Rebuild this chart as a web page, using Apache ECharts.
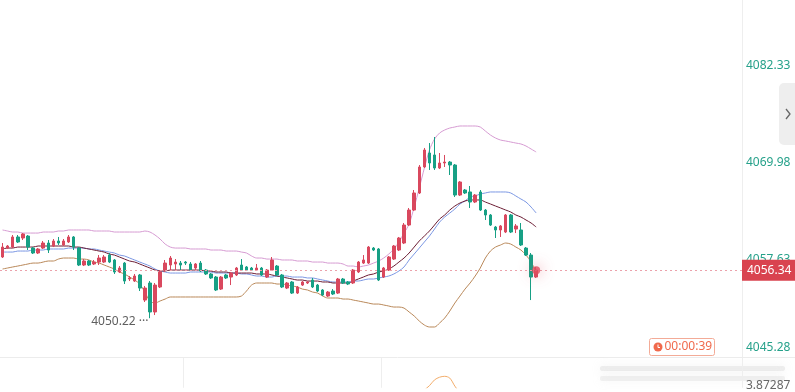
<!DOCTYPE html>
<html>
<head>
<meta charset="utf-8">
<script src="https://cdn.jsdelivr.net/npm/echarts@6/dist/echarts.min.js"></script>
<style>
  html, body { margin: 0; padding: 0; background: #fff; }
  #chart { width: 795px; height: 392px; }
</style>
</head>
<body>
<div id="chart"></div>
<script>
// price axis
const priceMin = 4045.28
const priceMax = 4090.73
const priceTicks = [4045.28, 4057.63, 4069.98, 4082.33]
const lastPrice = 4056.34
const lowPrice = 4050.22
const lowIndex = 29
const slotCount = 146

// candles (open / close / low / high)
const opens = [
  4058.01, 4059.15, 4059.28, 4060.56, 4060.43, 4060.68, 4059.15, 4058.52, 4059.15, 4059.79,
  4059.41, 4060.05, 4059.54, 4059.92, 4060.56, 4059.15, 4056.99, 4057.50, 4057.12, 4057.37,
  4057.37, 4058.26, 4057.63, 4056.10, 4057.24, 4055.21, 4054.95, 4055.72, 4052.53, 4054.70,
  4051.01, 4054.19, 4056.35, 4056.99, 4057.12, 4057.24, 4057.37, 4057.12, 4056.61, 4057.24,
  4056.35, 4055.85, 4055.46, 4053.93, 4055.72, 4055.46, 4055.72, 4056.99, 4056.74, 4056.61,
  4056.35, 4056.61, 4055.46, 4056.35, 4056.86, 4055.72, 4054.06, 4054.83, 4053.42, 4054.44,
  4054.70, 4055.08, 4054.44, 4053.81, 4053.04, 4053.68, 4053.42, 4055.21, 4054.83, 4054.70,
  4056.10, 4057.24, 4057.24, 4059.15, 4059.03, 4055.46, 4056.35, 4057.75, 4058.90, 4059.79,
  4062.08, 4063.99, 4066.16, 4069.47, 4071.25, 4071.00, 4069.34, 4069.98, 4070.10, 4069.72,
  4065.90, 4066.54, 4066.29, 4065.01, 4066.29, 4063.99, 4063.36, 4061.83, 4061.45, 4061.19,
  4063.36, 4061.57, 4061.45, 4059.15, 4058.26, 4055.46
]
const closes = [
  4059.28, 4059.41, 4060.56, 4059.92, 4060.94, 4059.28, 4058.52, 4059.03, 4059.79, 4058.90,
  4060.05, 4059.79, 4060.05, 4060.56, 4059.28, 4056.99, 4057.50, 4056.99, 4057.37, 4057.88,
  4058.01, 4057.37, 4056.10, 4056.61, 4054.95, 4055.34, 4055.59, 4054.06, 4054.06, 4051.01,
  4054.44, 4056.10, 4057.24, 4057.88, 4057.37, 4056.99, 4057.24, 4056.35, 4057.12, 4056.23,
  4055.85, 4055.34, 4053.81, 4055.46, 4055.34, 4055.97, 4056.61, 4056.35, 4056.35, 4056.35,
  4056.61, 4055.72, 4056.35, 4057.63, 4055.72, 4054.19, 4054.70, 4053.42, 4054.19, 4054.83,
  4054.83, 4054.19, 4053.68, 4053.17, 4053.55, 4053.30, 4055.21, 4054.70, 4054.57, 4056.35,
  4057.37, 4057.63, 4059.28, 4058.90, 4055.08, 4056.61, 4058.01, 4059.41, 4060.43, 4062.08,
  4063.99, 4066.16, 4069.47, 4071.63, 4069.98, 4069.34, 4069.98, 4070.10, 4069.72, 4065.90,
  4067.56, 4066.16, 4065.01, 4065.90, 4063.99, 4063.36, 4062.08, 4061.45, 4061.96, 4063.36,
  4061.19, 4061.96, 4059.54, 4058.26, 4055.46, 4056.34
]
const lows = [
  4057.88, 4059.03, 4059.15, 4059.79, 4060.17, 4058.90, 4058.39, 4058.39, 4059.03, 4058.52,
  4059.28, 4059.54, 4059.41, 4059.79, 4058.90, 4056.86, 4056.86, 4056.86, 4056.99, 4056.99,
  4057.24, 4057.24, 4055.85, 4055.97, 4054.57, 4054.95, 4054.83, 4053.68, 4052.28, 4050.22,
  4050.62, 4054.06, 4056.10, 4056.35, 4056.35, 4056.35, 4056.99, 4056.23, 4056.35, 4056.10,
  4055.72, 4055.21, 4053.68, 4053.81, 4055.21, 4054.44, 4055.59, 4056.23, 4056.23, 4056.23,
  4056.23, 4055.59, 4055.34, 4056.23, 4055.59, 4054.06, 4053.93, 4053.30, 4053.30, 4054.32,
  4054.57, 4054.06, 4053.55, 4053.04, 4052.92, 4053.17, 4053.30, 4054.57, 4054.44, 4054.57,
  4055.97, 4057.12, 4057.12, 4058.77, 4054.95, 4055.34, 4056.23, 4057.63, 4058.77, 4059.66,
  4061.96, 4063.87, 4066.03, 4069.34, 4069.09, 4069.09, 4069.21, 4069.47, 4068.45, 4065.65,
  4065.78, 4066.03, 4064.25, 4064.88, 4063.87, 4062.72, 4061.96, 4060.43, 4060.56, 4061.06,
  4061.06, 4061.06, 4059.41, 4058.14, 4052.53, 4055.34
]
const highs = [
  4059.79, 4059.54, 4060.81, 4060.81, 4061.06, 4060.81, 4059.28, 4059.15, 4060.05, 4060.17,
  4060.30, 4060.56, 4060.30, 4060.81, 4060.68, 4059.28, 4057.75, 4057.63, 4057.63, 4058.26,
  4058.26, 4058.52, 4057.75, 4056.86, 4057.37, 4055.59, 4055.85, 4055.85, 4054.32, 4054.95,
  4054.70, 4056.35, 4057.63, 4058.14, 4057.75, 4057.50, 4057.50, 4057.37, 4057.24, 4057.50,
  4056.48, 4055.97, 4055.59, 4055.59, 4055.85, 4056.10, 4056.74, 4057.75, 4056.86, 4056.74,
  4057.12, 4056.74, 4056.48, 4058.01, 4056.99, 4055.85, 4054.83, 4054.95, 4054.32, 4054.95,
  4054.95, 4055.34, 4054.57, 4053.93, 4053.68, 4053.93, 4055.34, 4055.34, 4054.95, 4056.48,
  4057.50, 4058.26, 4059.41, 4059.28, 4059.15, 4056.74, 4058.14, 4059.54, 4060.56, 4062.34,
  4064.25, 4066.54, 4069.72, 4071.89, 4072.52, 4073.29, 4071.25, 4071.00, 4070.23, 4069.85,
  4067.68, 4066.67, 4067.05, 4066.03, 4066.54, 4064.12, 4063.48, 4061.96, 4062.08, 4063.48,
  4063.48, 4062.21, 4062.34, 4059.28, 4058.52, 4056.74
]

// bollinger bands + moving average
const bollUpper = [
  4061.45, 4061.32, 4061.19, 4061.19, 4061.06, 4061.06, 4061.06, 4061.06, 4061.19, 4061.19,
  4061.19, 4061.32, 4061.32, 4061.45, 4061.45, 4061.45, 4061.45, 4061.45, 4061.32, 4061.32,
  4061.32, 4061.32, 4061.19, 4061.19, 4061.19, 4061.19, 4061.19, 4061.19, 4061.32, 4061.19,
  4060.81, 4060.30, 4059.66, 4059.28, 4059.15, 4059.15, 4059.15, 4059.03, 4059.03, 4059.03,
  4059.03, 4058.90, 4058.90, 4058.90, 4058.77, 4058.77, 4058.77, 4058.64, 4058.52, 4058.14,
  4057.88, 4057.88, 4057.75, 4057.75, 4057.75, 4057.63, 4057.63, 4057.63, 4057.50, 4057.50,
  4057.50, 4057.37, 4057.37, 4057.37, 4057.24, 4057.24, 4057.24, 4057.12, 4056.86, 4056.86,
  4056.74, 4056.86, 4056.99, 4057.24, 4057.50, 4057.88, 4058.39, 4059.03, 4059.92, 4061.06,
  4062.21, 4064.37, 4066.79, 4069.34, 4071.63, 4073.03, 4073.80, 4074.18, 4074.43, 4074.56,
  4074.69, 4074.69, 4074.69, 4074.69, 4074.56, 4074.05, 4073.54, 4073.16, 4072.90, 4072.78,
  4072.65, 4072.52, 4072.40, 4072.14, 4071.76, 4071.38
]
const bollMid = [
  4059.03, 4059.15, 4059.15, 4059.28, 4059.28, 4059.28, 4059.28, 4059.41, 4059.41, 4059.41,
  4059.41, 4059.41, 4059.41, 4059.41, 4059.28, 4059.28, 4059.15, 4059.03, 4058.90, 4058.77,
  4058.64, 4058.39, 4058.26, 4058.01, 4057.75, 4057.50, 4057.37, 4057.12, 4056.86, 4056.61,
  4056.35, 4056.23, 4056.23, 4056.35, 4056.35, 4056.35, 4056.35, 4056.35, 4056.35, 4056.35,
  4056.23, 4056.23, 4056.10, 4056.10, 4056.10, 4055.97, 4055.97, 4055.97, 4055.97, 4055.97,
  4055.85, 4055.85, 4055.85, 4055.72, 4055.59, 4055.46, 4055.34, 4055.21, 4055.08, 4055.08,
  4054.95, 4054.95, 4054.95, 4054.83, 4054.83, 4054.70, 4054.70, 4054.70, 4054.70, 4054.95,
  4055.21, 4055.46, 4055.72, 4055.85, 4056.10, 4056.23, 4056.48, 4056.86, 4057.37, 4057.88,
  4058.52, 4059.28, 4060.05, 4060.68, 4061.32, 4062.08, 4062.85, 4063.36, 4063.99, 4064.50,
  4064.88, 4065.14, 4065.27, 4065.27, 4065.27, 4065.01, 4064.76, 4064.50, 4064.25, 4063.99,
  4063.74, 4063.36, 4063.10, 4062.72, 4062.34, 4061.83
]
const bollLower = [
  4056.48, 4056.61, 4056.74, 4056.86, 4056.99, 4057.12, 4057.24, 4057.24, 4057.37, 4057.50,
  4057.50, 4057.75, 4057.88, 4057.88, 4057.88, 4057.75, 4057.75, 4057.63, 4057.37, 4057.24,
  4056.99, 4056.74, 4056.48, 4056.10, 4055.85, 4055.46, 4055.08, 4054.57, 4053.55, 4052.41,
  4052.15, 4052.41, 4052.66, 4052.92, 4052.92, 4052.92, 4052.92, 4052.92, 4052.92, 4052.92,
  4052.92, 4052.92, 4052.92, 4052.92, 4052.92, 4052.92, 4052.92, 4053.04, 4053.68, 4054.44,
  4054.70, 4054.70, 4054.70, 4054.70, 4054.57, 4054.57, 4054.44, 4054.32, 4054.19, 4053.93,
  4053.81, 4053.55, 4053.42, 4053.04, 4052.79, 4052.79, 4052.79, 4052.66, 4052.66, 4052.53,
  4052.41, 4052.28, 4052.15, 4052.02, 4052.02, 4051.90, 4051.77, 4051.64, 4051.64, 4051.51,
  4051.01, 4050.50, 4049.86, 4049.35, 4049.10, 4049.10, 4049.61, 4050.24, 4051.13, 4052.15,
  4053.04, 4053.93, 4054.70, 4055.59, 4056.61, 4057.88, 4058.77, 4059.28, 4059.54, 4059.79,
  4059.66, 4059.28, 4058.90, 4058.26, 4057.37, 4056.10
]
const maLine = [
  4058.64, 4058.64, 4058.64, 4058.77, 4058.77, 4058.77, 4058.90, 4058.90, 4058.90, 4059.03,
  4059.03, 4059.03, 4059.03, 4059.15, 4059.15, 4059.15, 4059.15, 4059.03, 4059.03, 4058.90,
  4058.77, 4058.64, 4058.52, 4058.26, 4058.14, 4057.88, 4057.63, 4057.37, 4057.12, 4056.86,
  4056.48, 4056.23, 4056.10, 4055.97, 4055.97, 4055.97, 4055.97, 4056.10, 4056.10, 4056.10,
  4056.10, 4056.10, 4055.97, 4055.97, 4055.97, 4055.97, 4055.97, 4055.85, 4055.85, 4055.72,
  4055.59, 4055.59, 4055.46, 4055.46, 4055.59, 4055.59, 4055.59, 4055.46, 4055.46, 4055.46,
  4055.34, 4055.34, 4055.21, 4055.08, 4054.95, 4054.83, 4054.83, 4054.83, 4054.83, 4054.95,
  4054.95, 4055.08, 4055.21, 4055.21, 4055.34, 4055.46, 4055.59, 4055.85, 4056.23, 4056.74,
  4057.63, 4058.39, 4059.15, 4059.92, 4060.68, 4061.57, 4062.46, 4063.10, 4063.61, 4064.12,
  4064.76, 4065.14, 4065.65, 4065.78, 4066.03, 4066.16, 4066.29, 4066.29, 4066.29, 4066.29,
  4066.16, 4065.78, 4065.39, 4065.01, 4064.37, 4063.61
]

// lower panel oscillator (only the visible bump)
const oscStart = 81
const oscValues = [3.50, 3.62, 3.78, 3.88, 4.01, 4.07, 4.09, 4.05, 3.87, 3.72]
const oscTicks = [3.87287]

const chart = echarts.init(document.getElementById('chart'), null, { renderer: 'canvas' })

const categories = Array.from({ length: slotCount }, (_, i) => String(i))
const candles = opens.map((o, i) => [o, closes[i], lows[i], highs[i]])
const oscData = categories.map((_, i) => {
  const k = i - oscStart
  return k >= 0 && k < oscValues.length ? oscValues[k] : null
})

const upColor = '#d9485e'
const downColor = '#17a085'

const lineSeries = (name, data, color) => ({
  name,
  type: 'line',
  data,
  smooth: 0.3,
  showSymbol: false,
  silent: true,
  lineStyle: { width: 1, color },
  z: 3
})

const option = {
  animation: false,
  textStyle: { fontFamily: 'Noto Sans' },
  grid: [
    { left: 0, right: 53, top: 0, height: 357 },
    { left: 0, right: 53, top: 358, bottom: 0 }
  ],
  xAxis: [
    { type: 'category', data: categories, gridIndex: 0, boundaryGap: true, show: false },
    {
      type: 'category',
      data: categories,
      gridIndex: 1,
      boundaryGap: true,
      axisLine: { show: false },
      axisTick: { show: false },
      axisLabel: { show: false },
      splitLine: {
        show: true,
        interval: (i) => i === 36 || i === 75,
        lineStyle: { color: '#eeeeee' }
      }
    }
  ],
  yAxis: [
    {
      type: 'value',
      gridIndex: 0,
      position: 'right',
      min: priceMin,
      max: priceMax,
      axisLine: { show: true, lineStyle: { color: '#eeeeee' } },
      axisTick: { show: false },
      splitLine: { show: false },
      axisLabel: {
        customValues: priceTicks,
        margin: 4,
        color: '#26a18a',
        fontSize: 12,
        formatter: (v) => v === priceMin ? '{lift|' + v.toFixed(2) + '}' : v.toFixed(2),
        rich: { lift: { color: '#26a18a', fontSize: 12, padding: [0, 0, 18, 0] } }
      }
    },
    {
      type: 'value',
      gridIndex: 1,
      position: 'right',
      min: 3.833,
      max: 4.5,
      axisLine: { show: false },
      axisTick: { show: false },
      splitLine: { show: false },
      axisLabel: {
        customValues: oscTicks,
        margin: 4,
        color: '#666',
        fontSize: 12,
        formatter: (v) => v.toFixed(5)
      }
    }
  ],
  series: [
    lineSeries('upper', bollUpper, '#d69bd2'),
    lineSeries('lower', bollLower, '#b98859'),
    lineSeries('ma', maLine, '#7b97e3'),
    lineSeries('mid', bollMid, '#6b1c33'),
    {
      name: 'kline',
      type: 'candlestick',
      data: candles,
      barWidth: 3,
      z: 4,
      itemStyle: {
        color: upColor,
        color0: downColor,
        borderColor: upColor,
        borderColor0: downColor,
        borderWidth: 1
      },
      markLine: {
        silent: true,
        symbol: 'none',
        lineStyle: { color: '#eba2ab', width: 1, type: [2, 3] },
        label: {
          position: 'end',
          distance: 0,
          formatter: lastPrice.toFixed(2),
          color: '#fff',
          fontSize: 12,
          backgroundColor: '#d9434f',
          padding: [5, 5, 4, 5]
        },
        data: [{ yAxis: lastPrice }]
      },
      markPoint: {
        silent: true,
        symbol: 'circle',
        symbolSize: 1,
        itemStyle: { color: 'rgba(0,0,0,0)' },
        label: {
          show: true,
          position: 'left',
          distance: 1,
          offset: [0, 3],
          color: '#5f5f5f',
          fontSize: 12,
          formatter: lowPrice.toFixed(2) + ' ···'
        },
        data: [{ coord: [lowIndex, lowPrice] }]
      }
    },
    {
      name: 'now',
      type: 'scatter',
      data: [[closes.length - 1, lastPrice]],
      symbolSize: 8,
      silent: true,
      z: 6,
      itemStyle: {
        color: '#e04c5e',
        shadowBlur: 14,
        shadowColor: 'rgba(224,76,94,0.9)'
      }
    },
    {
      name: 'osc',
      type: 'line',
      xAxisIndex: 1,
      yAxisIndex: 1,
      data: oscData,
      smooth: 0.3,
      showSymbol: false,
      silent: true,
      lineStyle: { width: 1, color: '#f2ac6a' }
    }
  ],
  graphic: [
    // panel separator
    { type: 'line', shape: { x1: 0, y1: 357.5, x2: 795, y2: 357.5 }, style: { stroke: '#ececec', lineWidth: 1 }, silent: true },
    // blurred legend in lower panel
    { type: 'rect', shape: { x: 600, y: 366, width: 185, height: 5, r: 2 }, style: { fill: 'rgba(205,205,205,0.3)', shadowBlur: 10, shadowColor: 'rgba(200,200,200,0.7)' }, silent: true },
    { type: 'rect', shape: { x: 600, y: 376, width: 185, height: 5, r: 2 }, style: { fill: 'rgba(205,205,205,0.25)', shadowBlur: 10, shadowColor: 'rgba(200,200,200,0.7)' }, silent: true },
    // side toggle button
    { type: 'rect', shape: { x: 779, y: 83, width: 24, height: 62, r: 5 }, style: { fill: '#eeeeee' }, silent: true, z: 10 },
    { type: 'polyline', shape: { points: [[786, 109], [790, 114], [786, 119]] }, style: { stroke: '#666', lineWidth: 1.3, fill: null }, silent: true, z: 11 },
    // countdown badge
    {
      type: 'group',
      left: 649,
      top: 338,
      silent: true,
      z: 10,
      children: [
        { type: 'rect', shape: { x: 0, y: 0, width: 65, height: 17, r: 2 }, style: { fill: '#fff', stroke: '#f3ab97', lineWidth: 1 } },
        { type: 'circle', shape: { cx: 8.5, cy: 8.5, r: 4.5 }, style: { fill: '#f0694c' } },
        { type: 'polyline', shape: { points: [[8.5, 6], [8.5, 9], [10.5, 9]] }, style: { stroke: '#fff', lineWidth: 1, fill: null } },
        { type: 'text', x: 15, y: 8.5, style: { text: '00:00:39', fill: '#f0694c', fontSize: 12, fontFamily: 'Noto Sans', verticalAlign: 'middle' } }
      ]
    }
  ]
}

chart.setOption(option)
</script>
</body>
</html>
